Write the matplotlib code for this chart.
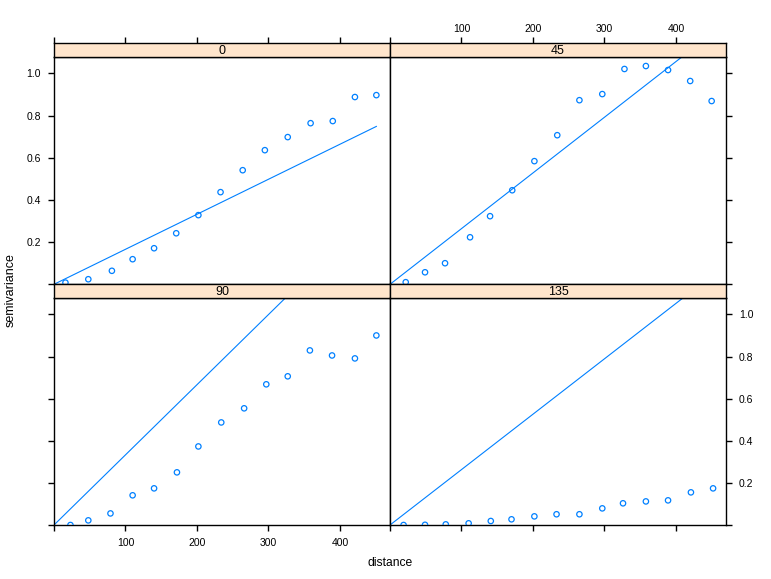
import matplotlib
matplotlib.use('Agg')
import matplotlib.pyplot as plt

plt.rcParams['font.family'] = ['Liberation Sans', 'DejaVu Sans']

# directional sample variogram
directions = ['0', '45', '90', '135']

dist_0 = [16, 48, 81, 110, 140, 171, 202, 233, 264, 295, 327, 359, 390, 421, 451]
gamma_0 = [0.008, 0.024, 0.064, 0.119, 0.171, 0.242, 0.328, 0.437, 0.541, 0.636,
           0.698, 0.764, 0.774, 0.888, 0.897]

dist_45 = [22, 49, 77, 112, 140, 171, 202, 234, 265, 297, 328, 358, 389, 420, 450]
gamma_45 = [0.010, 0.057, 0.100, 0.223, 0.323, 0.446, 0.584, 0.707, 0.873, 0.902,
            1.021, 1.035, 1.016, 0.964, 0.869]

dist_90 = [23, 48, 79, 110, 140, 172, 202, 234, 266, 297, 327, 358, 389, 421, 451]
gamma_90 = [0.000, 0.022, 0.055, 0.141, 0.174, 0.250, 0.373, 0.487, 0.554, 0.668,
            0.706, 0.829, 0.805, 0.791, 0.900]

dist_135 = [19, 49, 78, 110, 141, 170, 202, 233, 265, 297, 326, 358, 389, 421, 452]
gamma_135 = [0.000, 0.001, 0.003, 0.008, 0.019, 0.027, 0.041, 0.051, 0.051, 0.079,
             0.103, 0.112, 0.117, 0.155, 0.174]

# linear model slope per direction
slopes = [0.00166, 0.00264, 0.00333, 0.00263]

dists = [dist_0, dist_45, dist_90, dist_135]
gammas = [gamma_0, gamma_45, gamma_90, gamma_135]

xticks = [0, 100, 200, 300, 400]
xlabels = ['', '100', '200', '300', '400']
yticks = [0, 0.2, 0.4, 0.6, 0.8, 1.0]
ylabels = ['', '0.2', '0.4', '0.6', '0.8', '1.0']

blue = '#0080ff'
strip_col = '#ffe5cc'
xmax = 1.04 * max(max(d) for d in dists)
ymax = 1.04 * max(max(g) for g in gammas)

fig = plt.figure(figsize=(7.71, 5.79), dpi=100)

W, H = 771, 579
px_left = [54, 390]
pw = 336
# (panel top, panel bottom) in pixels; strip sits 14px above panel
rows = [(57.3, 284.3), (298.3, 525)]
strip_h = 14

# order: top-left 0, top-right 45, bottom-left 90, bottom-right 135
layout = [(0, 0), (0, 1), (1, 0), (1, 1)]

for k, (r, c) in enumerate(layout):
    top, bot = rows[r]
    ax = fig.add_axes([px_left[c] / W, 1 - bot / H, pw / W, (bot - top) / H])
    st = fig.add_axes([px_left[c] / W, 1 - top / H, pw / W, strip_h / H])

    ax.scatter(dists[k], gammas[k], s=15, facecolors='none', edgecolors=blue,
               linewidths=0.9, zorder=3)
    dmax = max(dists[k])
    ax.plot([0, dmax], [0, slopes[k] * dmax], color=blue, lw=0.8)
    ax.set_xlim(0, xmax)
    ax.set_ylim(0, ymax)

    for a in (ax, st):
        for s in a.spines.values():
            s.set_linewidth(1.0)
            s.set_color('black')

    st.set_facecolor(strip_col)
    st.set_xlim(0, xmax)
    st.set_yticks([])
    st.text(0.5, 0.45, directions[k], transform=st.transAxes, ha='center',
            va='center', fontsize=9)

    tp = dict(length=4.3, width=1.0, labelsize=7.5, color='black')
    ax.tick_params(which='both', direction='out', **tp)
    st.tick_params(which='both', direction='out', **tp)

    ax.set_xticks(xticks)
    ax.set_yticks(yticks)
    st.set_xticks(xticks)

    # x axis: ticks on outer edge only, labels alternate
    if r == 0:
        ax.tick_params(bottom=False, labelbottom=False, top=False, labeltop=False)
        st.tick_params(bottom=False, labelbottom=False, top=True,
                       labeltop=(c == 1), pad=2.5)
        st.set_xticklabels(xlabels)
    else:
        st.tick_params(bottom=False, labelbottom=False, top=False, labeltop=False)
        ax.tick_params(bottom=True, labelbottom=(c == 0), top=False,
                       labeltop=False, pad=3.5)
        ax.set_xticklabels(xlabels)

    # y axis
    if c == 0:
        ax.tick_params(left=True, labelleft=(r == 0), right=False,
                       labelright=False, pad=5)
    else:
        ax.tick_params(left=False, labelleft=False, right=True,
                       labelright=(r == 1), pad=5)
    ax.set_yticklabels(ylabels)

fig.text(11 / W, 1 - 290 / H, 'semivariance', rotation=90, ha='center',
         va='center', fontsize=9)
fig.text(390 / W, 1 - 563 / H, 'distance', ha='center', va='center',
         fontsize=8.7)

fig.savefig('out.png', dpi=100)
